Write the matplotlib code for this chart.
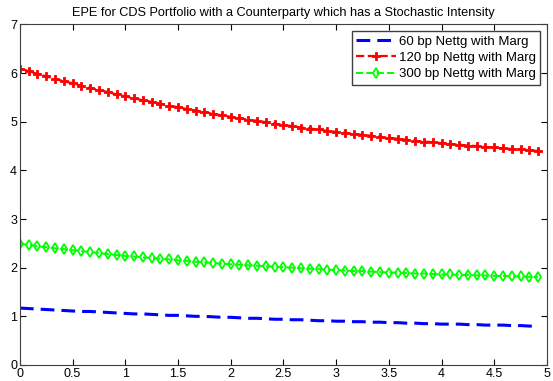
import numpy as np
import matplotlib
matplotlib.use("Agg")
from matplotlib import pyplot as plt

plt.rcParams['font.family'] = ['Liberation Sans', 'DejaVu Sans']

# monthly time grid in years
t = np.arange(60) / 12

epe_60 = [1.17, 1.16, 1.15, 1.14, 1.13, 1.12, 1.11, 1.10, 1.10, 1.09,
          1.08, 1.07, 1.06, 1.05, 1.05, 1.04, 1.03, 1.02, 1.02, 1.01,
          1.00, 1.00, 0.99, 0.98, 0.98, 0.97, 0.96, 0.96, 0.95, 0.94,
          0.94, 0.93, 0.93, 0.92, 0.91, 0.91, 0.90, 0.90, 0.89, 0.89,
          0.88, 0.88, 0.87, 0.87, 0.86, 0.86, 0.85, 0.85, 0.84, 0.84,
          0.84, 0.83, 0.83, 0.82, 0.82, 0.82, 0.81, 0.81, 0.80, 0.80]

epe_120 = [6.09, 6.04, 5.98, 5.93, 5.88, 5.83, 5.79, 5.74, 5.69, 5.65,
           5.61, 5.56, 5.52, 5.48, 5.44, 5.41, 5.37, 5.33, 5.30, 5.26,
           5.23, 5.20, 5.16, 5.13, 5.10, 5.07, 5.04, 5.02, 4.99, 4.96,
           4.93, 4.91, 4.88, 4.86, 4.84, 4.81, 4.79, 4.77, 4.75, 4.73,
           4.71, 4.69, 4.67, 4.65, 4.63, 4.61, 4.59, 4.58, 4.56, 4.54,
           4.53, 4.51, 4.50, 4.48, 4.47, 4.45, 4.44, 4.43, 4.41, 4.40]

epe_300 = [2.49, 2.47, 2.44, 2.42, 2.40, 2.38, 2.36, 2.34, 2.32, 2.30,
           2.28, 2.26, 2.24, 2.23, 2.21, 2.20, 2.18, 2.17, 2.15, 2.14,
           2.12, 2.11, 2.10, 2.08, 2.07, 2.06, 2.05, 2.04, 2.03, 2.02,
           2.01, 2.00, 1.99, 1.98, 1.97, 1.96, 1.95, 1.94, 1.93, 1.93,
           1.92, 1.91, 1.90, 1.90, 1.89, 1.88, 1.88, 1.87, 1.86, 1.86,
           1.85, 1.85, 1.84, 1.84, 1.83, 1.83, 1.82, 1.82, 1.81, 1.81]

labels = ['60 bp Nettg with Marg', '120 bp Nettg with Marg', '300 bp Nettg with Marg']

fig = plt.figure(figsize=(5.53, 3.81), dpi=100)
ax = fig.add_axes([0.036, 0.042, 0.953, 0.894])

ax.plot(t, epe_60, color='#0000ff', linestyle='--', linewidth=2.2, dashes=(4.5, 2.3), label=labels[0])
ax.plot(t, epe_120, color='#ff0000', linestyle='--', linewidth=1.6, marker='P', markersize=6,
        markeredgewidth=0.6, label=labels[1])
ax.plot(t, epe_300, color='#00ff00', linestyle='--', linewidth=1.4, marker='d', markersize=5,
        markerfacecolor='none', markeredgewidth=1.3, label=labels[2])

ax.set_xlim(0, 5)
ax.set_ylim(0, 7)
ax.set_xticks(np.arange(0, 5.01, 0.5))
ax.set_xticklabels(['0', '0.5', '1', '1.5', '2', '2.5', '3', '3.5', '4', '4.5', '5'])
ax.set_yticks(range(8))
ax.tick_params(direction='in', top=True, right=True, length=4, labelsize=9, pad=2)
for s in ax.spines.values():
    s.set_color('#404040')

ax.set_title('EPE for CDS Portfolio with a Counterparty which has a Stochastic Intensity',
             fontsize=9.2, pad=6)

leg = ax.legend(loc='upper right', fontsize=9.5, fancybox=False, edgecolor='#404040',
                framealpha=1, handlelength=3, handletextpad=0.2, borderpad=0.35,
                labelspacing=0.3, borderaxespad=0.5)
leg.get_frame().set_linewidth(1)

fig.savefig('out.png', dpi=100)
